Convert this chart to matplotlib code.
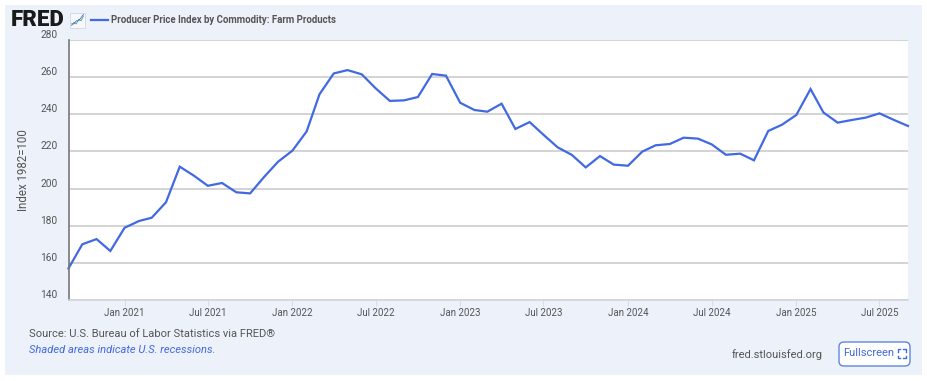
import matplotlib.pyplot as plt
import pandas as pd
from matplotlib.patches import FancyBboxPatch, Rectangle

plt.rcParams['font.family'] = ['Roboto', 'DejaVu Sans']

dates = pd.date_range('2020-09-01', '2025-09-01', freq='MS')
ppi = [157.0, 170.0, 172.8, 166.4, 178.9, 182.5, 184.3, 192.6, 211.8, 206.9, 201.5, 203.0,
       198.0, 197.4, 206.4, 214.5, 220.4, 230.8, 250.8, 262.0, 263.8, 261.5, 254.0, 247.2,
       247.5, 249.3, 261.7, 260.8, 246.2, 242.3, 241.4, 245.7, 232.1, 235.8, 229.0, 222.2,
       218.1, 211.4, 217.5, 212.9, 212.3, 219.9, 223.3, 224.0, 227.4, 226.9, 223.8, 218.2,
       218.8, 215.2, 231.0, 234.4, 239.6, 253.6, 241.0, 235.5, 236.9, 238.2, 240.5, 237.0,
       233.7]
y_ticks = [140, 160, 180, 200, 220, 240, 260, 280]
x_ticks = ['2021-01-01', '2021-07-01', '2022-01-01', '2022-07-01', '2023-01-01', '2023-07-01',
           '2024-01-01', '2024-07-01', '2025-01-01', '2025-07-01']
x_labels = ['Jan 2021', 'Jul 2021', 'Jan 2022', 'Jul 2022', 'Jan 2023', 'Jul 2023',
            'Jan 2024', 'Jul 2024', 'Jan 2025', 'Jul 2025']
icon_green = [1, 3, 2, 5, 4, 7]
icon_blue = [2, 2, 4, 4, 6, 8]

W, H = 928, 381
BLUE = '#4169e1'
GRAY = '#555555'

fig = plt.figure(figsize=(W / 100, H / 100), dpi=100, facecolor='white')

# page chrome in pixel coordinates
bg = fig.add_axes([0, 0, 1, 1], zorder=0)
bg.set_xlim(0, W)
bg.set_ylim(H, 0)
bg.axis('off')
bg.add_patch(Rectangle((5, 5), 917, 370, facecolor='#ecf1fa', edgecolor='none'))

# main chart
left, right, top, bottom = 68.5, 908, 40, 300
ax = fig.add_axes([left / W, 1 - bottom / H, (right - left) / W, (bottom - top) / H], zorder=1)
ax.plot(dates, ppi, color=BLUE, linewidth=1.6, solid_joinstyle='miter', clip_on=False)
ax.set_xlim(dates[0], dates[-1])
ax.set_ylim(140, 280)
ax.set_yticks(y_ticks)
ax.set_xticks(pd.to_datetime(x_ticks))
ax.set_xticklabels(x_labels, fontsize=7, color=GRAY)
ax.grid(True, axis='y', color='#cccccc', linewidth=1.2)
ax.set_axisbelow(True)
ax.tick_params(axis='x', length=4, width=0.7, color='#dddddd', direction='out', pad=1.5)
ax.tick_params(axis='y', length=0, pad=8, labelsize=7.3, labelcolor=GRAY)
plt.setp(ax.get_yticklabels(), va='bottom')
for s in ['top', 'right']:
    ax.spines[s].set_visible(False)
ax.spines['left'].set_color('#777777')
ax.spines['left'].set_linewidth(1.2)
ax.spines['bottom'].set_color('#d4d6dc')
ax.spines['bottom'].set_linewidth(1.2)

bg.text(24, 170, 'Index 1982=100', rotation=90, ha='center', va='center', fontsize=8.3, color=GRAY)

# header
bg.text(11, 20, 'FRED', fontsize=16, fontweight='black', color='#1a1a1a', va='center', ha='left')
bg.add_patch(Rectangle((70, 12.5), 15, 15, facecolor='#f6f8fc', edgecolor='#cfd6e4', linewidth=0.6))
icon = fig.add_axes([71 / W, 1 - 26 / H, 13 / W, 12 / H], zorder=2)
icon.plot(icon_green, color='#5aa469', linewidth=0.6)
icon.plot(icon_blue, color=BLUE, linewidth=0.6)
icon.axis('off')
bg.plot([91, 108], [20, 20], color=BLUE, linewidth=1.6)
bg.text(111, 20, 'Producer Price Index by Commodity: Farm Products', fontsize=6.95, fontweight='bold',
        color=GRAY, va='center', ha='left')

# footer
bg.text(29, 334, 'Source: U.S. Bureau of Labor Statistics via FRED®', fontsize=8, color=GRAY,
        va='center', ha='left')
bg.text(29, 350, 'Shaded areas indicate U.S. recessions.', fontsize=8, style='italic', color=BLUE,
        va='center', ha='left')
bg.text(732, 355, 'fred.stlouisfed.org', fontsize=8, color=GRAY, va='center', ha='left')
bg.add_patch(FancyBboxPatch((841, 344), 67, 20, boxstyle='round,pad=2,rounding_size=5',
                            facecolor='white', edgecolor='#5f86dc', linewidth=1))
bg.text(843, 353.5, 'Fullscreen', fontsize=8, color=BLUE, va='center', ha='left')
for cx, sx in [(898, 1), (906, -1)]:
    for cy, sy in [(349, 1), (358, -1)]:
        bg.plot([cx + 2.5 * sx, cx, cx], [cy, cy, cy + 2.5 * sy], color=BLUE, linewidth=1)

fig.savefig('out.png', dpi=100, facecolor='white')
